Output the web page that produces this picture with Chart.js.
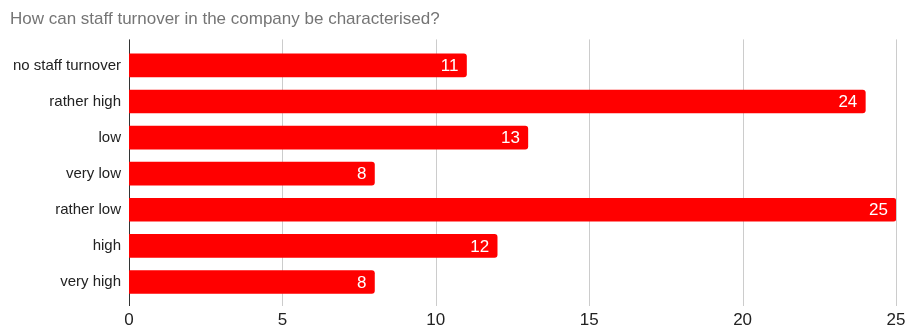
<!DOCTYPE html>
<html>
<head>
<meta charset="utf-8">
<script src="https://cdn.jsdelivr.net/npm/chart.js@4"></script>
<style>
  html, body { margin: 0; padding: 0; background: #fff; }
  #wrap { width: 908px; height: 329px; }
</style>
</head>
<body>
<div id="wrap"><canvas id="myChart" width="908" height="329"></canvas></div>
<script>
const categories = ["no staff turnover", "rather high", "low", "very low", "rather low", "high", "very high"];
const counts = [11, 24, 13, 8, 25, 12, 8];
const xTicks = [0, 5, 10, 15, 20, 25];

const FONT = "'Liberation Sans', Arial, sans-serif";

// vertical grid lines that stick out a little above and below the plot
const gridPlugin = {
  id: "gridLines",
  beforeDatasetsDraw(chart) {
    const ctx = chart.ctx;
    const area = chart.chartArea;
    const x = chart.scales.x;
    ctx.save();
    xTicks.forEach(function (v) {
      const px = Math.round(x.getPixelForValue(v)) + 0.5;
      ctx.strokeStyle = v === 0 ? "#333333" : "#cccccc";
      ctx.lineWidth = 1;
      ctx.beginPath();
      ctx.moveTo(px, area.top - 8);
      ctx.lineTo(px, area.bottom + 6);
      ctx.stroke();
    });
    ctx.restore();
  }
};

// value inside the end of each bar
const labelPlugin = {
  id: "barLabels",
  afterDatasetsDraw(chart) {
    const ctx = chart.ctx;
    const meta = chart.getDatasetMeta(0);
    ctx.save();
    ctx.fillStyle = "#ffffff";
    ctx.font = "17px " + FONT;
    ctx.textAlign = "right";
    ctx.textBaseline = "middle";
    meta.data.forEach(function (bar, i) {
      ctx.fillText(String(counts[i]), bar.x - 8, bar.y + 1);
    });
    ctx.restore();
  }
};

new Chart(document.getElementById("myChart"), {
  type: "bar",
  data: {
    labels: categories,
    datasets: [{
      data: counts,
      backgroundColor: "#ff0000",
      borderWidth: 0,
      borderRadius: 3,
      borderSkipped: "start",
      barThickness: 23
    }]
  },
  options: {
    indexAxis: "y",
    responsive: false,
    animation: false,
    layout: { padding: { left: 10, right: 0, top: 6, bottom: 0 } },
    plugins: {
      legend: { display: false },
      tooltip: { enabled: false },
      title: {
        display: true,
        text: "How can staff turnover in the company be characterised?",
        align: "start",
        color: "#757575",
        font: { family: FONT, size: 17, weight: "normal" },
        padding: { top: 3, bottom: 18 }
      }
    },
    scales: {
      x: {
        min: 0,
        max: 25,
        afterBuildTicks(scale) {
          scale.ticks = xTicks.map(function (v) { return { value: v }; });
        },
        afterFit(scale) {
          scale.height = 29;
          scale.paddingLeft = 0;
          scale.paddingRight = 12;
        },
        grid: { display: false, drawTicks: false },
        border: { display: false },
        ticks: { color: "#222222", font: { family: FONT, size: 17, lineHeight: 1 }, padding: 12 }
      },
      y: {
        grid: { display: false, drawTicks: false },
        border: { display: false },
        afterFit(scale) {
          scale.width = 119;
          scale.paddingTop = 0;
          scale.paddingBottom = 0;
        },
        ticks: { color: "#222222", font: { family: FONT, size: 15 }, padding: 8 }
      }
    }
  },
  plugins: [gridPlugin, labelPlugin]
});
</script>
</body>
</html>
